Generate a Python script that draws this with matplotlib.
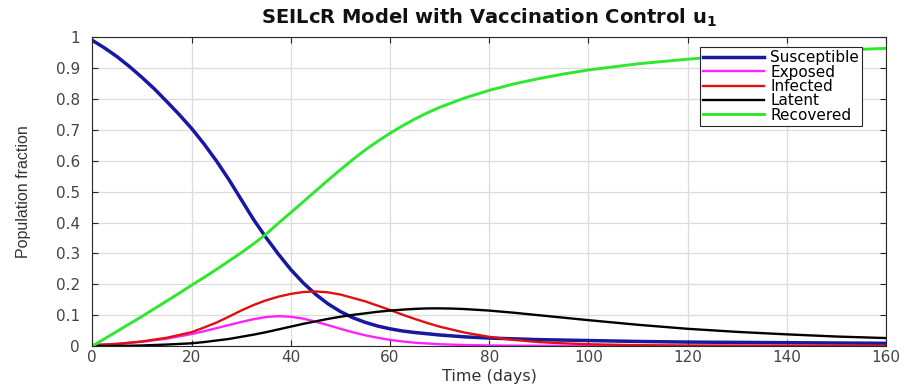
import matplotlib
matplotlib.use("Agg")
import matplotlib.pyplot as plt

plt.rcParams['font.family'] = ['DejaVu Sans']

# ---- data ----
t_S = [0, 2.5, 5, 7.5, 10, 12.5, 15, 17.5, 20, 22.5, 25, 27.5, 30, 32.5, 35, 37.5, 40, 42.5, 45, 47.5,
       50, 52.5, 55, 57.5, 60, 62.5, 65, 70, 75, 80, 90, 100, 110, 120, 130, 140, 150, 160]
S = [0.99, 0.965, 0.937, 0.905, 0.870, 0.833, 0.792, 0.750, 0.705, 0.655, 0.600, 0.540, 0.475, 0.410,
     0.352, 0.298, 0.248, 0.205, 0.168, 0.137, 0.112, 0.092, 0.077, 0.065, 0.056, 0.049, 0.044, 0.036,
     0.030, 0.026, 0.021, 0.018, 0.015, 0.013, 0.012, 0.011, 0.010, 0.009]

t_E = [0, 5, 10, 15, 20, 22.5, 25, 27.5, 30, 32.5, 35, 37.5, 40, 42.5, 45, 47.5, 50, 52.5, 55, 57.5,
       60, 62.5, 65, 70, 75, 80, 90, 100, 160]
E = [0.003, 0.007, 0.014, 0.024, 0.039, 0.048, 0.058, 0.068, 0.078, 0.087, 0.094, 0.097, 0.095, 0.089,
     0.079, 0.068, 0.056, 0.045, 0.035, 0.027, 0.020, 0.015, 0.011, 0.006, 0.0035, 0.002, 0.001, 0.0005,
     0.0002]

t_I = [0, 5, 10, 15, 20, 22.5, 25, 27.5, 30, 32.5, 35, 37.5, 40, 42.5, 45, 47.5, 50, 52.5, 55, 57.5,
       60, 62.5, 65, 67.5, 70, 75, 80, 85, 90, 95, 100, 110, 120, 140, 160]
I = [0.003, 0.007, 0.015, 0.027, 0.045, 0.060, 0.076, 0.095, 0.115, 0.133, 0.148, 0.160, 0.169, 0.175,
     0.177, 0.174, 0.167, 0.156, 0.145, 0.131, 0.117, 0.102, 0.088, 0.075, 0.063, 0.044, 0.030, 0.020,
     0.013, 0.009, 0.006, 0.003, 0.002, 0.0012, 0.001]

t_L = [0, 5, 10, 15, 20, 22.5, 25, 27.5, 30, 32.5, 35, 37.5, 40, 42.5, 45, 47.5, 50, 52.5, 55, 57.5,
       60, 62.5, 65, 67.5, 70, 72.5, 75, 80, 85, 90, 95, 100, 110, 120, 130, 140, 150, 160]
L = [0.0, 0.0005, 0.002, 0.005, 0.009, 0.013, 0.018, 0.023, 0.030, 0.037, 0.045, 0.054, 0.063, 0.072,
     0.080, 0.088, 0.095, 0.101, 0.106, 0.111, 0.115, 0.118, 0.1205, 0.122, 0.1222, 0.1215, 0.120, 0.115,
     0.108, 0.100, 0.092, 0.084, 0.069, 0.056, 0.046, 0.038, 0.031, 0.026]

t_R = [0, 2.5, 5, 7.5, 10, 12.5, 15, 17.5, 20, 22.5, 25, 27.5, 30, 32.5, 35, 37.5, 40, 42.5, 45, 47.5,
       50, 52.5, 55, 57.5, 60, 62.5, 65, 67.5, 70, 75, 80, 85, 90, 95, 100, 110, 120, 130, 140, 150, 160]
R = [0.0, 0.024, 0.048, 0.072, 0.096, 0.121, 0.146, 0.171, 0.197, 0.222, 0.248, 0.275, 0.302, 0.331,
     0.362, 0.398, 0.432, 0.467, 0.502, 0.537, 0.571, 0.604, 0.635, 0.663, 0.689, 0.713, 0.735, 0.755,
     0.773, 0.803, 0.828, 0.849, 0.866, 0.881, 0.894, 0.914, 0.929, 0.941, 0.950, 0.958, 0.964]

labels = ["Susceptible", "Exposed", "Infected", "Latent", "Recovered"]
x_ticks = [0, 20, 40, 60, 80, 100, 120, 140, 160]
y_ticks = [0, 0.1, 0.2, 0.3, 0.4, 0.5, 0.6, 0.7, 0.8, 0.9, 1]
y_tick_labels = ["0", "0.1", "0.2", "0.3", "0.4", "0.5", "0.6", "0.7", "0.8", "0.9", "1"]

fig = plt.figure(figsize=(9.05, 3.88), dpi=100)
ax = fig.add_axes([0.102, 0.108, 0.877, 0.796])

ax.plot(t_S, S, color="#1818a0", lw=2.5, label=labels[0])
ax.plot(t_E, E, color="#ff22ff", lw=1.7, label=labels[1])
ax.plot(t_I, I, color="#e01010", lw=1.7, label=labels[2])
ax.plot(t_L, L, color="black", lw=1.7, label=labels[3])
ax.plot(t_R, R, color="#2ee82e", lw=2.1, label=labels[4])

ax.set_xlim(0, 160)
ax.set_ylim(0, 1)
ax.set_xticks(x_ticks)
ax.set_yticks(y_ticks)
ax.set_yticklabels(y_tick_labels)
ax.grid(True, color="#dcdcdc", lw=0.9)
ax.set_axisbelow(True)
ax.tick_params(direction="in", top=True, right=True, length=4, colors="#262626",
               labelsize=11, labelcolor="#444444")
ax.tick_params(axis="y", pad=9)
ax.tick_params(axis="x", pad=3)
for sp in ax.spines.values():
    sp.set_color("#262626")
    sp.set_linewidth(0.8)

ax.set_xlabel("Time (days)", fontsize=11.5, color="#333333")
ax.xaxis.set_label_coords(0.5, -0.074)
ax.set_ylabel("Population fraction", fontsize=11.5, color="#333333",
              family=["Liberation Sans Narrow", "Liberation Sans", "DejaVu Sans"])
ax.yaxis.set_label_coords(-0.077, 0.5)
ax.set_title(r"SEILcR Model with Vaccination Control u$_\mathbf{1}$",
             fontsize=14, fontweight="bold", color="#111111", pad=9.5)

leg = ax.legend(loc="upper right", bbox_to_anchor=(0.97, 0.968), fontsize=11,
                handlelength=4.0, handletextpad=0.4, borderpad=0.2,
                labelspacing=-0.04, fancybox=False, framealpha=1,
                edgecolor="#262626", borderaxespad=0)
leg.get_frame().set_linewidth(0.8)

fig.savefig("out.png", dpi=100)
